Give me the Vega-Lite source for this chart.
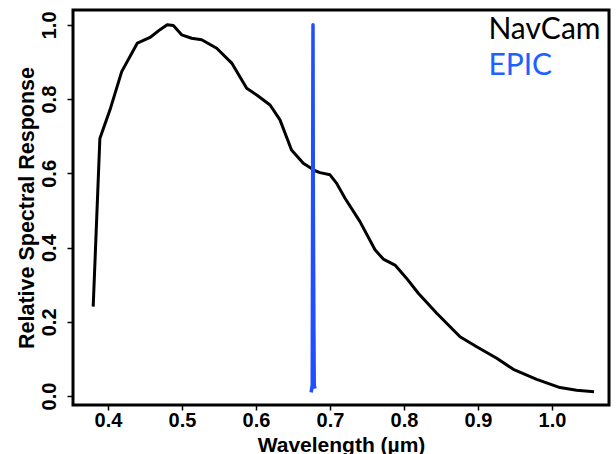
{
  "$schema": "https://vega.github.io/schema/vega-lite/v6.json",
  "width": 536,
  "height": 395,
  "autosize": {"type": "none"},
  "padding": {"left": 73, "top": 10, "right": 7, "bottom": 49},
  "background": "white",
  "config": {
    "view": {"stroke": "black", "strokeWidth": 3},
    "axis": {
      "domain": false,
      "grid": false,
      "tickColor": "black",
      "tickWidth": 1.5,
      "labelFont": "Liberation Sans",
      "labelFontWeight": "bold",
      "labelFontSize": 20,
      "labelColor": "black",
      "titleFont": "Liberation Sans",
      "titleFontWeight": "bold",
      "titleColor": "black"
    }
  },
  "datasets": {
    "navcam": [
      {"w": 0.380, "v": 0.241},
      {"w": 0.389, "v": 0.694},
      {"w": 0.4027, "v": 0.771},
      {"w": 0.4185, "v": 0.874},
      {"w": 0.4397, "v": 0.951},
      {"w": 0.4568, "v": 0.966},
      {"w": 0.4703, "v": 0.987},
      {"w": 0.480, "v": 1.0},
      {"w": 0.4883, "v": 0.998},
      {"w": 0.4995, "v": 0.973},
      {"w": 0.513, "v": 0.964},
      {"w": 0.5266, "v": 0.960},
      {"w": 0.5469, "v": 0.937},
      {"w": 0.5672, "v": 0.897},
      {"w": 0.5874, "v": 0.829},
      {"w": 0.601, "v": 0.811},
      {"w": 0.619, "v": 0.784},
      {"w": 0.6324, "v": 0.744},
      {"w": 0.648, "v": 0.663},
      {"w": 0.6639, "v": 0.627},
      {"w": 0.6797, "v": 0.607},
      {"w": 0.6865, "v": 0.602},
      {"w": 0.700, "v": 0.596},
      {"w": 0.709, "v": 0.573},
      {"w": 0.7203, "v": 0.533},
      {"w": 0.7405, "v": 0.470},
      {"w": 0.7608, "v": 0.394},
      {"w": 0.772, "v": 0.369},
      {"w": 0.7878, "v": 0.353},
      {"w": 0.8036, "v": 0.317},
      {"w": 0.8193, "v": 0.277},
      {"w": 0.8442, "v": 0.223},
      {"w": 0.8757, "v": 0.160},
      {"w": 0.8982, "v": 0.133},
      {"w": 0.9253, "v": 0.102},
      {"w": 0.9477, "v": 0.072},
      {"w": 0.9793, "v": 0.045},
      {"w": 1.0108, "v": 0.023},
      {"w": 1.0333, "v": 0.016},
      {"w": 1.0568, "v": 0.012}
    ],
    "epic": [
      {"w": 0.6745, "v": 0.01},
      {"w": 0.6760, "v": 0.03},
      {"w": 0.6770, "v": 1.0},
      {"w": 0.6775, "v": 0.49},
      {"w": 0.6782, "v": 0.18},
      {"w": 0.6787, "v": 0.03},
      {"w": 0.6797, "v": 0.02}
    ],
    "labels": [
      {"w": 0.914, "v": 0.962, "label": "NavCam", "series": "NavCam"},
      {"w": 0.914, "v": 0.865, "label": "EPIC", "series": "EPIC"}
    ]
  },
  "encoding": {
    "x": {
      "field": "w",
      "type": "quantitative",
      "scale": {"domain": [0.3527, 1.077], "nice": false, "zero": false},
      "axis": {
        "values": [0.4, 0.5, 0.6, 0.7, 0.8, 0.9, 1.0],
        "format": ".1f",
        "title": "Wavelength (µm)",
        "titleFontSize": 21,
        "tickSize": 5,
        "labelPadding": 0,
        "labelBaseline": "top",
        "labelFlush": false,
        "titleBaseline": "alphabetic",
        "titleY": 46
      }
    },
    "y": {
      "field": "v",
      "type": "quantitative",
      "scale": {"domain": [-0.024, 1.04], "nice": false, "zero": false},
      "axis": {
        "values": [0, 0.2, 0.4, 0.6, 0.8, 1.0],
        "format": ".1f",
        "title": "Relative Spectral Response",
        "titleFontSize": 21.5,
        "tickSize": 6,
        "labelAngle": -90,
        "labelAlign": "center",
        "labelBaseline": "alphabetic",
        "labelPadding": 12,
        "labelFlush": false,
        "titleAngle": -90,
        "titleBaseline": "alphabetic",
        "titleAlign": "center",
        "titleX": -40,
        "titleY": 197.5
      }
    }
  },
  "layer": [
    {
      "data": {"name": "navcam"},
      "mark": {"type": "line", "color": "black", "strokeWidth": 3, "strokeJoin": "round"}
    },
    {
      "data": {"name": "epic"},
      "mark": {"type": "line", "color": "#1f4fff", "strokeWidth": 3.5, "strokeJoin": "round"}
    },
    {
      "data": {"name": "labels"},
      "mark": {"type": "text", "align": "left", "baseline": "alphabetic", "font": "Lato", "fontSize": 30},
      "encoding": {
        "text": {"field": "label"},
        "color": {
          "field": "series",
          "type": "nominal",
          "scale": {"domain": ["NavCam", "EPIC"], "range": ["black", "#2060ff"]},
          "legend": null
        }
      }
    }
  ]
}
